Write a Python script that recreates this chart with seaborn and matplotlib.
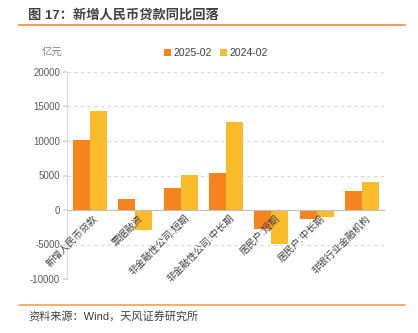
import matplotlib
matplotlib.use("Agg")
import matplotlib.pyplot as plt
import matplotlib.transforms as mtransforms
import seaborn as sns
import pandas as pd
from matplotlib.lines import Line2D
from matplotlib.patches import Patch

categories = ["新增人民币贷款", "票据融资", "非金融性公司:短期", "非金融性公司:中长期",
              "居民户:短期", "居民户:中长期", "非银行业金融机构"]
series_names = ["2025-02", "2024-02"]
values_2025 = [10100, 1600, 3200, 5300, -2800, -1250, 2800]
values_2024 = [14400, -2850, 5100, 12800, -4900, -1050, 4050]
y_ticks = [-10000, -5000, 0, 5000, 10000, 15000, 20000]
unit_label = "亿元"
title_text = "图 17：新增人民币贷款同比回落"
source_text = "资料来源：Wind，天风证券研究所"

colors = ["#F5841F", "#FBBC2B"]

df = pd.DataFrame({
    "category": categories * 2,
    "series": [series_names[0]] * len(categories) + [series_names[1]] * len(categories),
    "value": values_2025 + values_2024,
})

sns.set_theme(style="white")
plt.rcParams["font.family"] = ["Liberation Sans", "Noto Sans CJK SC", "DejaVu Sans"]

W, H = 418, 333
fig = plt.figure(figsize=(W / 100, H / 100), dpi=100)
ax = fig.add_axes([67 / W, 1 - 279 / H, (385 - 67) / W, (279 - 72) / H])

sns.barplot(data=df, x="category", y="value", hue="series", order=categories,
            hue_order=series_names, palette=colors, width=0.75, ax=ax,
            saturation=1, legend=False, linewidth=0)

ax.set_xlim(-0.5, len(categories) - 0.5)
ax.set_ylim(-10000, 20000)
ax.set_yticks(y_ticks)
ax.set_yticklabels([str(v) for v in y_ticks], fontsize=7, color="#595959")
ax.set_xlabel("")
ax.set_ylabel("")

ax.yaxis.grid(True, linestyle=(0, (3, 3)), color="#D9D9D9", linewidth=0.8)
ax.set_axisbelow(True)
for s in ["top", "right", "bottom"]:
    ax.spines[s].set_visible(False)
ax.spines["left"].set_color("#D9D9D9")
ax.spines["left"].set_linewidth(0.8)
ax.axhline(0, color="#BFBFBF", linewidth=0.8, zorder=1)
ax.tick_params(axis="y", length=3, color="#D9D9D9", pad=2, left=True)

# category labels hang just below the zero line, rotated 45 degrees
ax.set_xticks(range(len(categories)))
ax.set_xticklabels([])
ax.tick_params(axis="x", length=0)
offset = mtransforms.ScaledTranslation(3 / 100, -3 / 100, fig.dpi_scale_trans)
for i, cat in enumerate(categories):
    ax.text(i, 0, cat, rotation=45, ha="right", va="top", rotation_mode="anchor",
            fontsize=7, color="#404040", transform=ax.transData + offset)

def ly(y):
    return 1 - y / H

fig.text(28 / W, ly(15), title_text, fontsize=9.5, fontweight="bold",
         color="#404040", ha="left", va="center")
fig.add_artist(Line2D([19 / W, 405 / W], [ly(25), ly(25)], color="#F2A055", linewidth=1.5))
fig.add_artist(Line2D([19 / W, 405 / W], [ly(305), ly(305)], color="#F2A055", linewidth=1.2))
fig.text(28 / W, ly(316), source_text, fontsize=8, color="#404040", ha="left", va="center")
fig.text(42 / W, ly(53), unit_label, fontsize=7.5, color="#7F7F7F", ha="left", va="center")

handles = [Patch(facecolor=c, edgecolor="none") for c in colors]
fig.legend(handles, series_names, loc="center left", bbox_to_anchor=(155 / W, ly(53)),
           ncol=2, frameon=False, fontsize=7.5, handlelength=0.6, handleheight=0.6,
           handletextpad=0.3, columnspacing=0.8, labelcolor="#404040")

fig.savefig("out.png", dpi=100)
